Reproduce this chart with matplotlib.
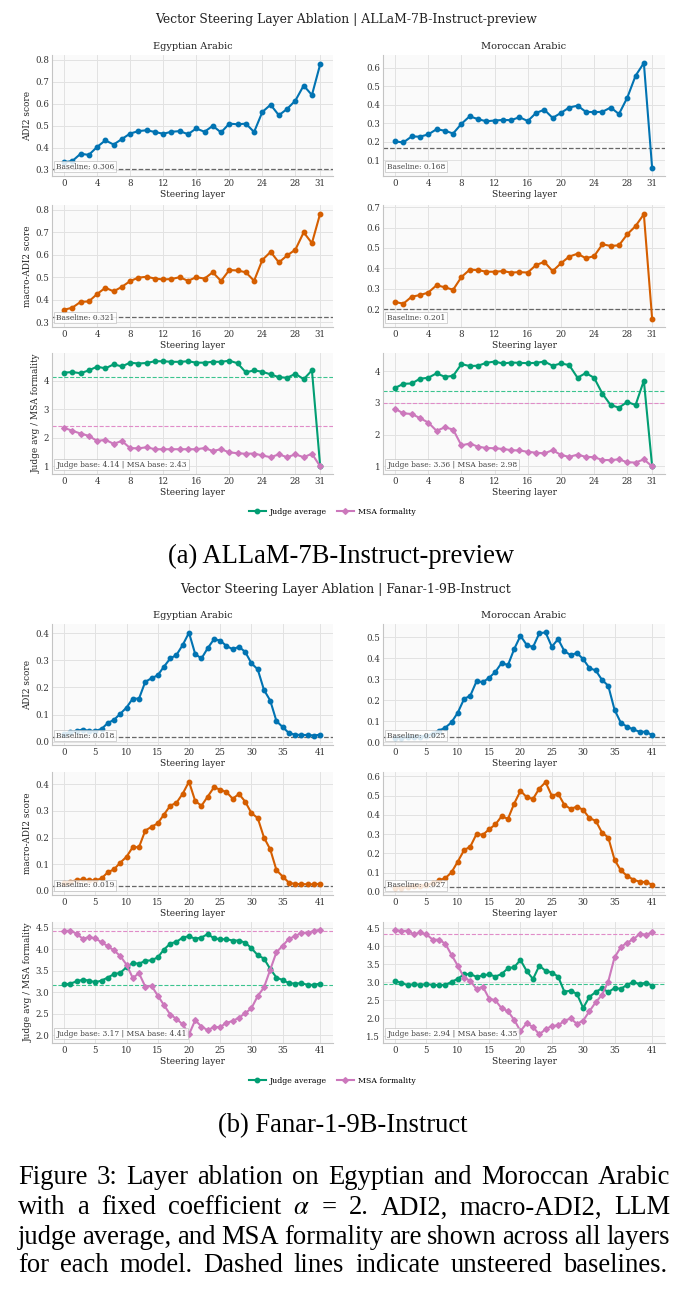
import matplotlib
matplotlib.use('Agg')
import matplotlib.pyplot as plt
from matplotlib.lines import Line2D
from matplotlib.ticker import FormatStrFormatter

# ---------------- data ----------------
allam_layers = list(range(32))
fanar_layers = list(range(42))
allam_xticks = [0, 4, 8, 12, 16, 20, 24, 28, 31]
fanar_xticks = [0, 5, 10, 15, 20, 25, 30, 35, 41]

allam_egy_adi2 = [0.335,0.34,0.373,0.368,0.404,0.434,0.415,0.44,0.465,0.476,0.48,0.472,0.464,0.473,0.476,0.462,
                  0.488,0.473,0.50,0.47,0.51,0.507,0.51,0.472,0.563,0.596,0.548,0.577,0.615,0.683,0.64,0.78]
allam_mor_adi2 = [0.202,0.197,0.229,0.228,0.24,0.268,0.26,0.245,0.297,0.338,0.322,0.311,0.315,0.318,0.317,0.333,
                  0.312,0.356,0.373,0.329,0.356,0.385,0.395,0.362,0.36,0.362,0.385,0.35,0.438,0.556,0.625,0.058]
allam_egy_macro = [0.355,0.364,0.39,0.392,0.425,0.453,0.437,0.457,0.483,0.498,0.502,0.494,0.49,0.492,0.5,0.484,
                   0.5,0.494,0.522,0.483,0.532,0.53,0.522,0.484,0.577,0.613,0.566,0.597,0.623,0.70,0.652,0.784]
allam_mor_macro = [0.236,0.228,0.262,0.27,0.282,0.318,0.308,0.296,0.358,0.394,0.392,0.384,0.384,0.387,0.38,0.382,
                   0.38,0.417,0.432,0.387,0.425,0.458,0.472,0.45,0.46,0.518,0.51,0.513,0.567,0.607,0.665,0.154]
allam_egy_judge = [4.29,4.31,4.27,4.37,4.5,4.44,4.58,4.51,4.64,4.61,4.63,4.69,4.69,4.67,4.67,4.69,
                   4.64,4.64,4.67,4.67,4.71,4.62,4.3,4.37,4.32,4.23,4.13,4.11,4.25,4.06,4.37,1.0]
allam_egy_msa = [2.35,2.25,2.15,2.07,1.89,1.93,1.79,1.89,1.64,1.63,1.67,1.6,1.6,1.6,1.6,1.6,
                 1.6,1.64,1.54,1.6,1.49,1.46,1.44,1.45,1.38,1.32,1.42,1.32,1.42,1.32,1.44,1.0]
allam_mor_judge = [3.47,3.6,3.61,3.76,3.79,3.93,3.82,3.85,4.22,4.16,4.17,4.26,4.3,4.24,4.27,4.26,
                   4.25,4.26,4.3,4.17,4.24,4.19,3.79,3.94,3.79,3.29,2.93,2.85,3.03,2.93,3.7,1.0]
allam_mor_msa = [2.81,2.67,2.65,2.52,2.38,2.12,2.23,2.16,1.66,1.72,1.62,1.58,1.57,1.55,1.51,1.5,
                 1.46,1.43,1.41,1.51,1.36,1.3,1.37,1.3,1.29,1.2,1.2,1.22,1.13,1.12,1.22,1.0]

fanar_egy_adi2 = [0.03,0.035,0.04,0.045,0.04,0.04,0.047,0.069,0.081,0.103,0.126,0.159,0.159,0.221,0.234,0.245,
                  0.277,0.307,0.32,0.357,0.402,0.323,0.307,0.345,0.378,0.373,0.353,0.341,0.35,0.331,0.289,0.267,
                  0.191,0.152,0.076,0.054,0.032,0.026,0.025,0.025,0.023,0.026]
fanar_mor_adi2 = [0.02,0.02,0.022,0.025,0.025,0.03,0.04,0.055,0.068,0.094,0.14,0.205,0.221,0.29,0.285,0.306,
                  0.334,0.377,0.366,0.443,0.506,0.462,0.452,0.518,0.522,0.454,0.49,0.433,0.414,0.424,0.395,0.352,
                  0.341,0.296,0.268,0.154,0.092,0.073,0.06,0.049,0.049,0.033]
fanar_egy_macro = [0.03,0.035,0.04,0.044,0.04,0.04,0.047,0.07,0.081,0.106,0.128,0.164,0.164,0.226,0.24,0.253,
                   0.286,0.319,0.33,0.364,0.409,0.336,0.319,0.353,0.388,0.379,0.37,0.345,0.363,0.334,0.291,0.273,
                   0.2,0.156,0.078,0.054,0.031,0.026,0.026,0.025,0.025,0.027]
fanar_mor_macro = [0.02,0.02,0.025,0.03,0.03,0.035,0.045,0.06,0.07,0.101,0.157,0.216,0.235,0.301,0.296,0.325,
                   0.35,0.393,0.379,0.459,0.525,0.492,0.483,0.537,0.57,0.499,0.51,0.452,0.431,0.443,0.426,0.383,
                   0.369,0.308,0.282,0.167,0.111,0.083,0.063,0.052,0.05,0.037]
fanar_egy_judge = [3.18,3.2,3.25,3.29,3.27,3.23,3.27,3.34,3.42,3.45,3.58,3.68,3.66,3.73,3.74,3.81,
                   3.99,4.13,4.17,4.27,4.3,4.24,4.27,4.35,4.25,4.23,4.23,4.2,4.2,4.15,4.02,3.86,
                   3.78,3.54,3.34,3.28,3.21,3.2,3.21,3.17,3.17,3.2]
fanar_egy_msa = [4.42,4.43,4.36,4.24,4.28,4.25,4.16,4.07,3.97,3.84,3.64,3.33,3.44,3.13,3.15,2.92,
                 2.7,2.48,2.38,2.25,2.02,2.35,2.2,2.12,2.19,2.19,2.29,2.33,2.41,2.51,2.63,2.91,
                 3.11,3.52,3.93,4.08,4.24,4.3,4.38,4.38,4.42,4.45]
fanar_mor_judge = [3.03,2.99,2.92,2.95,2.93,2.95,2.93,2.92,2.93,3.01,3.1,3.22,3.23,3.15,3.19,3.22,
                   3.16,3.23,3.39,3.42,3.62,3.31,3.09,3.46,3.32,3.27,3.16,2.74,2.77,2.68,2.29,2.6,
                   2.73,2.84,2.73,2.84,2.82,2.93,3.01,2.95,2.99,2.91]
fanar_mor_msa = [4.45,4.42,4.43,4.33,4.38,4.33,4.18,4.18,4.07,3.76,3.46,3.13,3.04,2.81,2.88,2.55,
                 2.5,2.28,2.2,1.96,1.65,1.87,1.76,1.56,1.7,1.79,1.81,1.93,2.0,1.85,1.94,2.2,
                 2.45,2.65,3.02,3.69,3.97,4.1,4.19,4.34,4.32,4.38]

# baselines
allam_egy_base = {'adi2': 0.306, 'macro': 0.321, 'judge': 4.14, 'msa': 2.43}
allam_mor_base = {'adi2': 0.168, 'macro': 0.201, 'judge': 3.36, 'msa': 2.98}
fanar_egy_base = {'adi2': 0.018, 'macro': 0.019, 'judge': 3.17, 'msa': 4.41}
fanar_mor_base = {'adi2': 0.025, 'macro': 0.027, 'judge': 2.94, 'msa': 4.35}

# ---------------- figure ----------------
W, H = 687, 1299
plt.rcParams['font.family'] = ['DejaVu Serif']
plt.rcParams['mathtext.fontset'] = 'stix'
fig = plt.figure(figsize=(W / 100, H / 100), dpi=100)

BLUE = '#0173b2'; ORANGE = '#d55e00'; GREEN = '#029e73'; PINK = '#cc78bc'
TICK_FS = 6.2; LAB_FS = 6.4; TITLE_FS = 7.0; BOX_FS = 5.4; SUP_FS = 8.9


def add_ax(x0, y0, x1, y1):
    return fig.add_axes([x0 / W, 1 - y1 / H, (x1 - x0) / W, (y1 - y0) / H])


def style(ax, layers, xticks, ylim, yticks, yfmt):
    ax.set_facecolor('#fafafa')
    ax.grid(True, color='#e2e2e2', lw=0.7)
    ax.set_axisbelow(True)
    for s in ['top', 'right']:
        ax.spines[s].set_visible(False)
    for s in ['left', 'bottom']:
        ax.spines[s].set_color('#c4c4c4')
        ax.spines[s].set_linewidth(0.8)
    ax.tick_params(length=0, labelsize=TICK_FS, colors='#333333', pad=2)
    n = layers[-1]
    ax.set_xlim(-0.047 * n, 1.05 * n)
    ax.set_xticks(xticks)
    ax.set_ylim(*ylim)
    ax.set_yticks(yticks)
    ax.yaxis.set_major_formatter(FormatStrFormatter(yfmt))
    ax.set_xlabel('Steering layer', fontsize=LAB_FS, labelpad=1.5, color='#222222')


def box(ax, txt):
    ax.text(0.015, 0.045, txt, transform=ax.transAxes, fontsize=BOX_FS, color='#444444',
            ha='left', va='bottom', zorder=6,
            bbox=dict(boxstyle='square,pad=0.25', fc='white', ec='#b8b8b8', lw=0.5, alpha=0.85))


def score_panel(ax, layers, vals, base, color, xticks, ylim, yticks, yfmt):
    style(ax, layers, xticks, ylim, yticks, yfmt)
    ax.plot(layers, vals, color=color, lw=1.5, marker='o', ms=3.2, zorder=3)
    ax.axhline(base, color='#666666', ls='--', lw=0.9, zorder=2)
    box(ax, f'Baseline: {base:.3f}')


def judge_panel(ax, layers, judge, msa, base, xticks, ylim, yticks, yfmt):
    style(ax, layers, xticks, ylim, yticks, yfmt)
    ax.plot(layers, judge, color=GREEN, lw=1.5, marker='o', ms=3.2, zorder=3)
    ax.plot(layers, msa, color=PINK, lw=1.5, marker='D', ms=2.9, zorder=3)
    ax.axhline(base['judge'], color='#3cc48f', ls='--', lw=0.8, zorder=2)
    ax.axhline(base['msa'], color='#e08cc8', ls='--', lw=0.8, zorder=2)
    box(ax, f"Judge base: {base['judge']:.2f} | MSA base: {base['msa']:.2f}")


LX = (52, 333)
RX = (383, 665)

# ---------- block (a) ALLaM ----------
rows_a = [(55, 176), (205, 327), (353, 474)]
fig.text(346 / W, 1 - 20 / H, 'Vector Steering Layer Ablation | ALLaM-7B-Instruct-preview',
         ha='center', va='center', fontsize=SUP_FS, color='#222222')

ax = add_ax(LX[0], rows_a[0][0], LX[1], rows_a[0][1])
score_panel(ax, allam_layers, allam_egy_adi2, allam_egy_base['adi2'], BLUE, allam_xticks,
            (0.272, 0.822), [0.3, 0.4, 0.5, 0.6, 0.7, 0.8], '%.1f')
ax.set_title('Egyptian Arabic', fontsize=TITLE_FS, pad=4, color='#222222')
ax.set_ylabel('ADI2 score', fontsize=LAB_FS, color='#222222', labelpad=2)

ax = add_ax(RX[0], rows_a[0][0], RX[1], rows_a[0][1])
score_panel(ax, allam_layers, allam_mor_adi2, allam_mor_base['adi2'], BLUE, allam_xticks,
            (0.016, 0.668), [0.1, 0.2, 0.3, 0.4, 0.5, 0.6], '%.1f')
ax.set_title('Moroccan Arabic', fontsize=TITLE_FS, pad=4, color='#222222')

ax = add_ax(LX[0], rows_a[1][0], LX[1], rows_a[1][1])
score_panel(ax, allam_layers, allam_egy_macro, allam_egy_base['macro'], ORANGE, allam_xticks,
            (0.278, 0.822), [0.3, 0.4, 0.5, 0.6, 0.7, 0.8], '%.1f')
ax.set_ylabel('macro-ADI2 score', fontsize=LAB_FS, color='#222222', labelpad=2)

ax = add_ax(RX[0], rows_a[1][0], RX[1], rows_a[1][1])
score_panel(ax, allam_layers, allam_mor_macro, allam_mor_base['macro'], ORANGE, allam_xticks,
            (0.114, 0.71), [0.2, 0.3, 0.4, 0.5, 0.6, 0.7], '%.1f')

ax = add_ax(LX[0], rows_a[2][0], LX[1], rows_a[2][1])
judge_panel(ax, allam_layers, allam_egy_judge, allam_egy_msa, allam_egy_base, allam_xticks,
            (0.73, 4.98), [1, 2, 3, 4], '%d')
ax.set_ylabel('Judge avg / MSA formality', fontsize=LAB_FS, color='#222222', labelpad=2)

ax = add_ax(RX[0], rows_a[2][0], RX[1], rows_a[2][1])
judge_panel(ax, allam_layers, allam_mor_judge, allam_mor_msa, allam_mor_base, allam_xticks,
            (0.76, 4.57), [1, 2, 3, 4], '%d')

handles = [Line2D([], [], color=GREEN, lw=1.5, marker='o', ms=3.2),
           Line2D([], [], color=PINK, lw=1.5, marker='D', ms=2.9)]
labels = ['Judge average', 'MSA formality']
fig.legend(handles, labels, loc='center', bbox_to_anchor=(332 / W, 1 - 512 / H), ncol=2,
           frameon=False, fontsize=5.6, handlelength=2.2, columnspacing=1.3, handletextpad=0.5)

# ---------- block (b) Fanar ----------
rows_b = [(624, 745), (772, 895), (922, 1043)]
fig.text(346 / W, 1 - 590 / H, 'Vector Steering Layer Ablation | Fanar-1-9B-Instruct',
         ha='center', va='center', fontsize=SUP_FS, color='#222222')

ax = add_ax(LX[0], rows_b[0][0], LX[1], rows_b[0][1])
score_panel(ax, fanar_layers, fanar_egy_adi2, fanar_egy_base['adi2'], BLUE, fanar_xticks,
            (-0.012, 0.434), [0.0, 0.1, 0.2, 0.3, 0.4], '%.1f')
ax.set_title('Egyptian Arabic', fontsize=TITLE_FS, pad=4, color='#222222')
ax.set_ylabel('ADI2 score', fontsize=LAB_FS, color='#222222', labelpad=2)

ax = add_ax(RX[0], rows_b[0][0], RX[1], rows_b[0][1])
score_panel(ax, fanar_layers, fanar_mor_adi2, fanar_mor_base['adi2'], BLUE, fanar_xticks,
            (-0.014, 0.562), [0.0, 0.1, 0.2, 0.3, 0.4, 0.5], '%.1f')
ax.set_title('Moroccan Arabic', fontsize=TITLE_FS, pad=4, color='#222222')

ax = add_ax(LX[0], rows_b[1][0], LX[1], rows_b[1][1])
score_panel(ax, fanar_layers, fanar_egy_macro, fanar_egy_base['macro'], ORANGE, fanar_xticks,
            (-0.015, 0.445), [0.0, 0.1, 0.2, 0.3, 0.4], '%.1f')
ax.set_ylabel('macro-ADI2 score', fontsize=LAB_FS, color='#222222', labelpad=2)

ax = add_ax(RX[0], rows_b[1][0], RX[1], rows_b[1][1])
score_panel(ax, fanar_layers, fanar_mor_macro, fanar_mor_base['macro'], ORANGE, fanar_xticks,
            (-0.017, 0.623), [0.0, 0.1, 0.2, 0.3, 0.4, 0.5, 0.6], '%.1f')

ax = add_ax(LX[0], rows_b[2][0], LX[1], rows_b[2][1])
judge_panel(ax, fanar_layers, fanar_egy_judge, fanar_egy_msa, fanar_egy_base, fanar_xticks,
            (1.82, 4.63), [2.0, 2.5, 3.0, 3.5, 4.0, 4.5], '%.1f')
ax.set_ylabel('Judge avg / MSA formality', fontsize=LAB_FS, color='#222222', labelpad=2)

ax = add_ax(RX[0], rows_b[2][0], RX[1], rows_b[2][1])
judge_panel(ax, fanar_layers, fanar_mor_judge, fanar_mor_msa, fanar_mor_base, fanar_xticks,
            (1.32, 4.67), [1.5, 2.0, 2.5, 3.0, 3.5, 4.0, 4.5], '%.1f')

fig.legend(handles, labels, loc='center', bbox_to_anchor=(332 / W, 1 - 1081 / H), ncol=2,
           frameon=False, fontsize=5.6, handlelength=2.2, columnspacing=1.3, handletextpad=0.5)

# ---------- captions ----------
CAP_FONT = ['Liberation Serif', 'DejaVu Serif']
CAP_FS = 19.2
fig.text(341.5 / W, 1 - 556 / H, '(a) ALLaM-7B-Instruct-preview', ha='center', va='center',
         fontsize=CAP_FS, family=CAP_FONT, color='black')
fig.text(343 / W, 1 - 1126 / H, '(b) Fanar-1-9B-Instruct', ha='center', va='center',
         fontsize=CAP_FS, family=CAP_FONT, color='black')

caption_lines = [
    'Figure 3: Layer ablation on Egyptian and Moroccan Arabic',
    r'with a fixed coefficient $\alpha$ = 2. ADI2, macro-ADI2, LLM',
    'judge average, and MSA formality are shown across all layers',
    'for each model. Dashed lines indicate unsteered baselines.',
]
caption_y = [1175, 1205, 1234, 1263]
caption_right = [670, 670, 670, 667]
renderer = fig.canvas.get_renderer()
X0 = 18
for line, yc, xr in zip(caption_lines, caption_y, caption_right):
    words = line.split(' ')
    texts = [fig.text(0, 1 - yc / H, w, fontsize=CAP_FS, family=CAP_FONT, ha='left',
                      va='center_baseline', color='black') for w in words]
    widths = [t.get_window_extent(renderer).width for t in texts]
    gap = ((xr - X0) - sum(widths)) / (len(words) - 1)
    x = X0
    for t, w in zip(texts, widths):
        t.set_x(x / W)
        x += w + gap

fig.savefig('out.png', dpi=100)
